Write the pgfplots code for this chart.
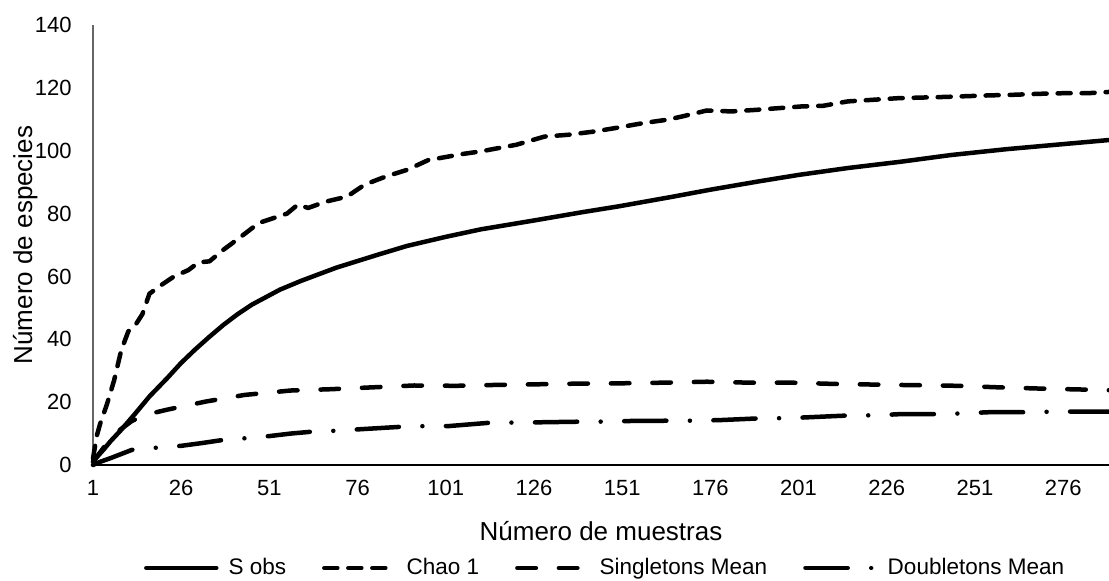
\documentclass[border=0pt]{standalone}
\usepackage{fontspec}
\setmainfont{Liberation Sans}
\usepackage{pgfplots}
\pgfplotsset{compat=1.18}

\pgfplotsset{
  legline/.style={legend image code/.code={\draw[##1] (0pt,0pt) -- (35pt,0pt);}},
}

\pgfplotstableread{
x y
1 1
2 2.4
4 4.9
6 7.6
9 11.2
13 16.4
17 21.8
22 27.6
26 32.5
30 36.8
34 40.8
38 44.6
42 48
46 51
51 54
54 55.8
60 58.6
70 62.8
82 67
90 69.7
101 72.6
111 75
126 77.8
140 80.5
150 82.3
165 85.3
176 87.6
190 90.3
201 92.3
215 94.5
230 96.5
244 98.6
260 100.5
276 102.1
289 103.4
}\sobs

\pgfplotstableread{
x y
1 2
2 9
3 13
5 19.5
7 27
9 36.5
11 42.5
13 44.5
15 48
17 54.5
20 57
24 60
28 62
31 64.5
34 64.8
38 68.5
43 72.7
48 77
52 78.5
56 80
59 82.8
62 81.8
67 83.8
73 85.4
78 89.2
84 91.8
90 93.9
96 97
101 98
106 99
111 99.8
121 101.9
129 104.5
136 105.1
143 106.1
149 107.2
157 108.8
164 109.9
168 110.9
175 112.8
182 112.5
189 113
196 113.6
202 114.1
208 114.3
215 115.7
222 116.2
229 116.7
242 117.1
255 117.6
262 117.8
269 118.1
276 118.3
283 118.3
289 118.7
}\chao

\pgfplotstableread{
x y
1 1
3 4
5 7
7 9.5
9 11.5
12 14
16 16
22 17.6
33 20.2
44 22.3
57 23.7
68 24.1
80 24.7
92 25.3
104 25.2
116 25.5
128 25.7
139 25.9
151 26
163 26.2
175 26.5
187 26.2
199 26.2
211 25.8
222 25.6
234 25.4
246 25.2
258 24.7
270 24.3
282 24
289 23.8
}\single

\pgfplotstableread{
x y
1 0
3 1
6 2.2
9 3.5
12 4.8
15 5.2
20 5.6
26 6.1
32 7
38 8
44 8.5
51 9.2
57 10
63 10.6
70 10.9
77 11.4
89 12.2
96 12.4
102 12.4
114 13.5
121 13.5
128 13.6
140 13.8
147 13.8
153 14
165 14.1
172 14.1
179 14.3
191 14.9
198 14.9
204 15.2
216 15.8
223 15.8
230 16.2
242 16.2
249 16.5
255 16.8
267 16.8
274 17
281 17
289 17
}\double

\begin{document}
\begin{tikzpicture}
\begin{axis}[
  scale only axis, width=508pt, height=220pt,
  xmin=1, xmax=289, ymin=0, ymax=140,
  axis lines=left,
  x axis line style={-, draw=black, line width=1pt},
  y axis line style={-, draw=black!60, line width=0.6pt},
  xtick={1,26,...,276},
  ytick={0,20,...,140},
  major tick length=0pt,
  /pgf/number format/assume math mode=true,
  tick label style={font=\fontsize{11}{13}\selectfont},
  yticklabel style={anchor=east, inner sep=0pt, xshift=-10.5pt},
  xticklabel style={anchor=north, inner sep=0pt, yshift=-7.5pt},
  xlabel={Número de muestras},
  ylabel={Número de especies},
  label style={font=\fontsize{13}{15}\selectfont},
  xlabel style={at={(axis description cs:0.5,-0.1705)}, anchor=base},
  ylabel style={at={(axis description cs:-0.060,0.5)}, anchor=base},
  clip=false,
  every axis plot/.append style={line width=2.25pt, line cap=round, line join=round, black},
  legend columns=4,
  legend style={draw=none, fill=none, at={(axis description cs:0.505,-0.234)}, anchor=center,
    font=\fontsize{11.25}{13}\selectfont, inner sep=0pt,
    /tikz/every odd column/.append style={column sep=3pt},
    /tikz/every even column/.append style={column sep=16pt}},
  legend cell align=left,
]
\coordinate (bl) at (rel axis cs:0,0);
\coordinate (tr) at (rel axis cs:1,1);
\addplot[solid, legline] table[x=x,y=y] {\sobs};
\addlegendentry{S obs}
\addplot[dash pattern=on 6.5pt off 5.5pt, legline] table[x=x,y=y] {\chao};
\addlegendentry{Chao 1}
\addplot[dash pattern=on 9.25pt off 11.5pt, legline] table[x=x,y=y] {\single};
\addlegendentry{Singletons Mean}
\addplot[dash pattern=on 21.1pt off 11.75pt on 0.01pt off 11.75pt, legline] table[x=x,y=y] {\double};
\addlegendentry{Doubletons Mean}
\end{axis}
\pgfresetboundingbox
\path[use as bounding box] ([xshift=-46.5pt,yshift=-57.5pt]bl) rectangle ([yshift=12.5pt]tr);
\end{tikzpicture}
\end{document}
